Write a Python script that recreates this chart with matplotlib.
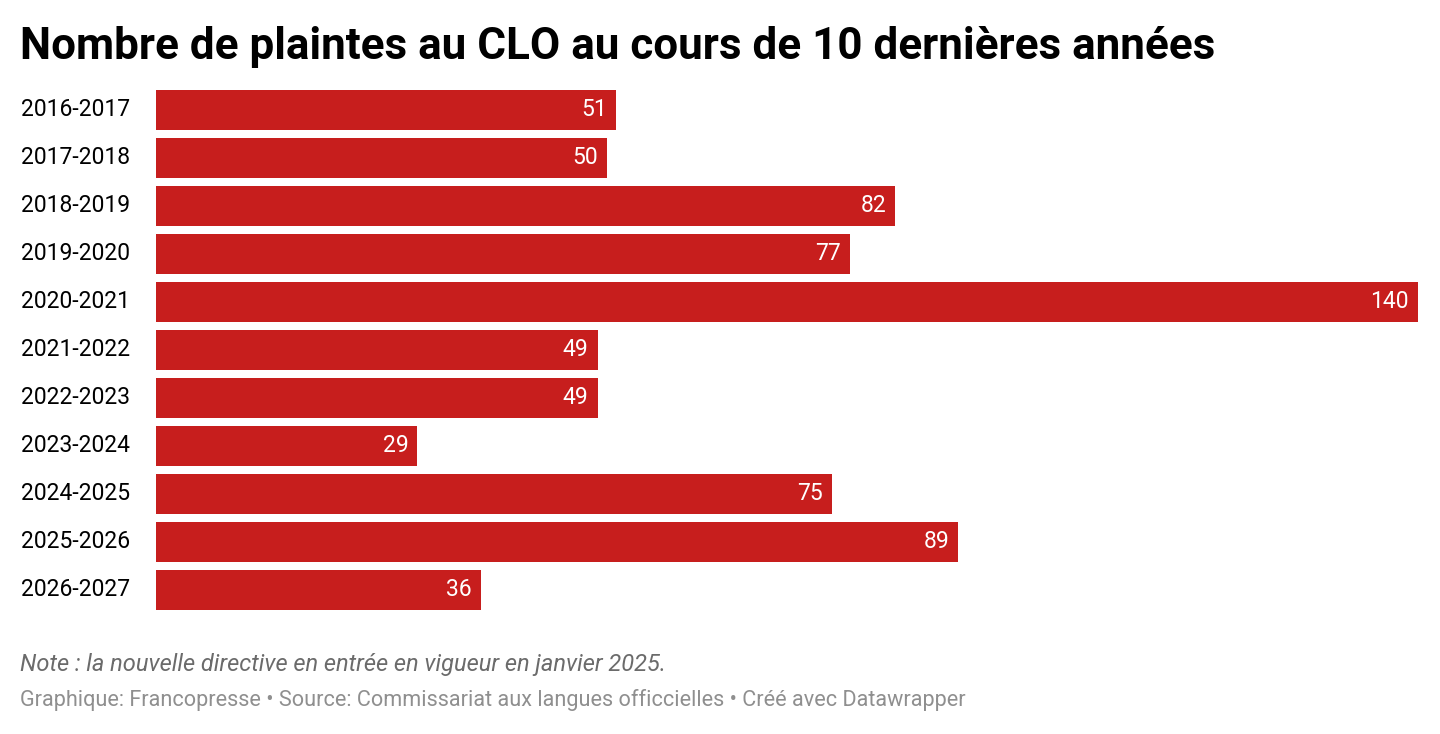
import matplotlib
matplotlib.use('Agg')
import matplotlib.pyplot as plt
from matplotlib.transforms import blended_transform_factory

years = ["2016-2017", "2017-2018", "2018-2019", "2019-2020", "2020-2021", "2021-2022",
         "2022-2023", "2023-2024", "2024-2025", "2025-2026", "2026-2027"]
plaintes = [51, 50, 82, 77, 140, 49, 49, 29, 75, 89, 36]

plt.rcParams['font.family'] = ['Roboto', 'DejaVu Sans']

fig = plt.figure(figsize=(14.4, 7.34), dpi=100)
ax = fig.add_axes([156 / 1440, 1 - 614 / 734, (1418 - 156) / 1440, 528 / 734])
ypos = list(range(len(years)))
ax.barh(ypos, plaintes, height=0.833, color='#c71e1d')
ax.set_xlim(0, 140)
ax.set_ylim(len(years) - 0.5, -0.5)
for y, v in zip(ypos, plaintes):
    ax.text(v - 1.0, y, str(v), color='white', ha='right', va='center', fontsize=16.5)

trans = blended_transform_factory(fig.transFigure, ax.transData)
for y, lbl in zip(ypos, years):
    ax.text(21 / 1440, y, lbl, transform=trans, ha='left', va='center', fontsize=16.5)
ax.set_yticks([])
ax.set_xticks([])
for s in ax.spines.values():
    s.set_visible(False)

fig.text(20 / 1440, 1 - 47 / 734, "Nombre de plaintes au CLO au cours de 10 dernières années",
         fontsize=31.7, fontweight='bold', va='center', ha='left')
fig.text(20 / 1440, 1 - 664 / 734, "Note : la nouvelle directive en entrée en vigueur en janvier 2025.",
         fontsize=17, style='italic', color='#6b6b6b', va='center', ha='left')
fig.text(20 / 1440, 1 - 700 / 734,
         "Graphique: Francopresse • Source: Commissariat aux langues officcielles • Créé avec Datawrapper",
         fontsize=15.6, color='#8f8f8f', va='center', ha='left')

fig.savefig('out.png', dpi=100)
